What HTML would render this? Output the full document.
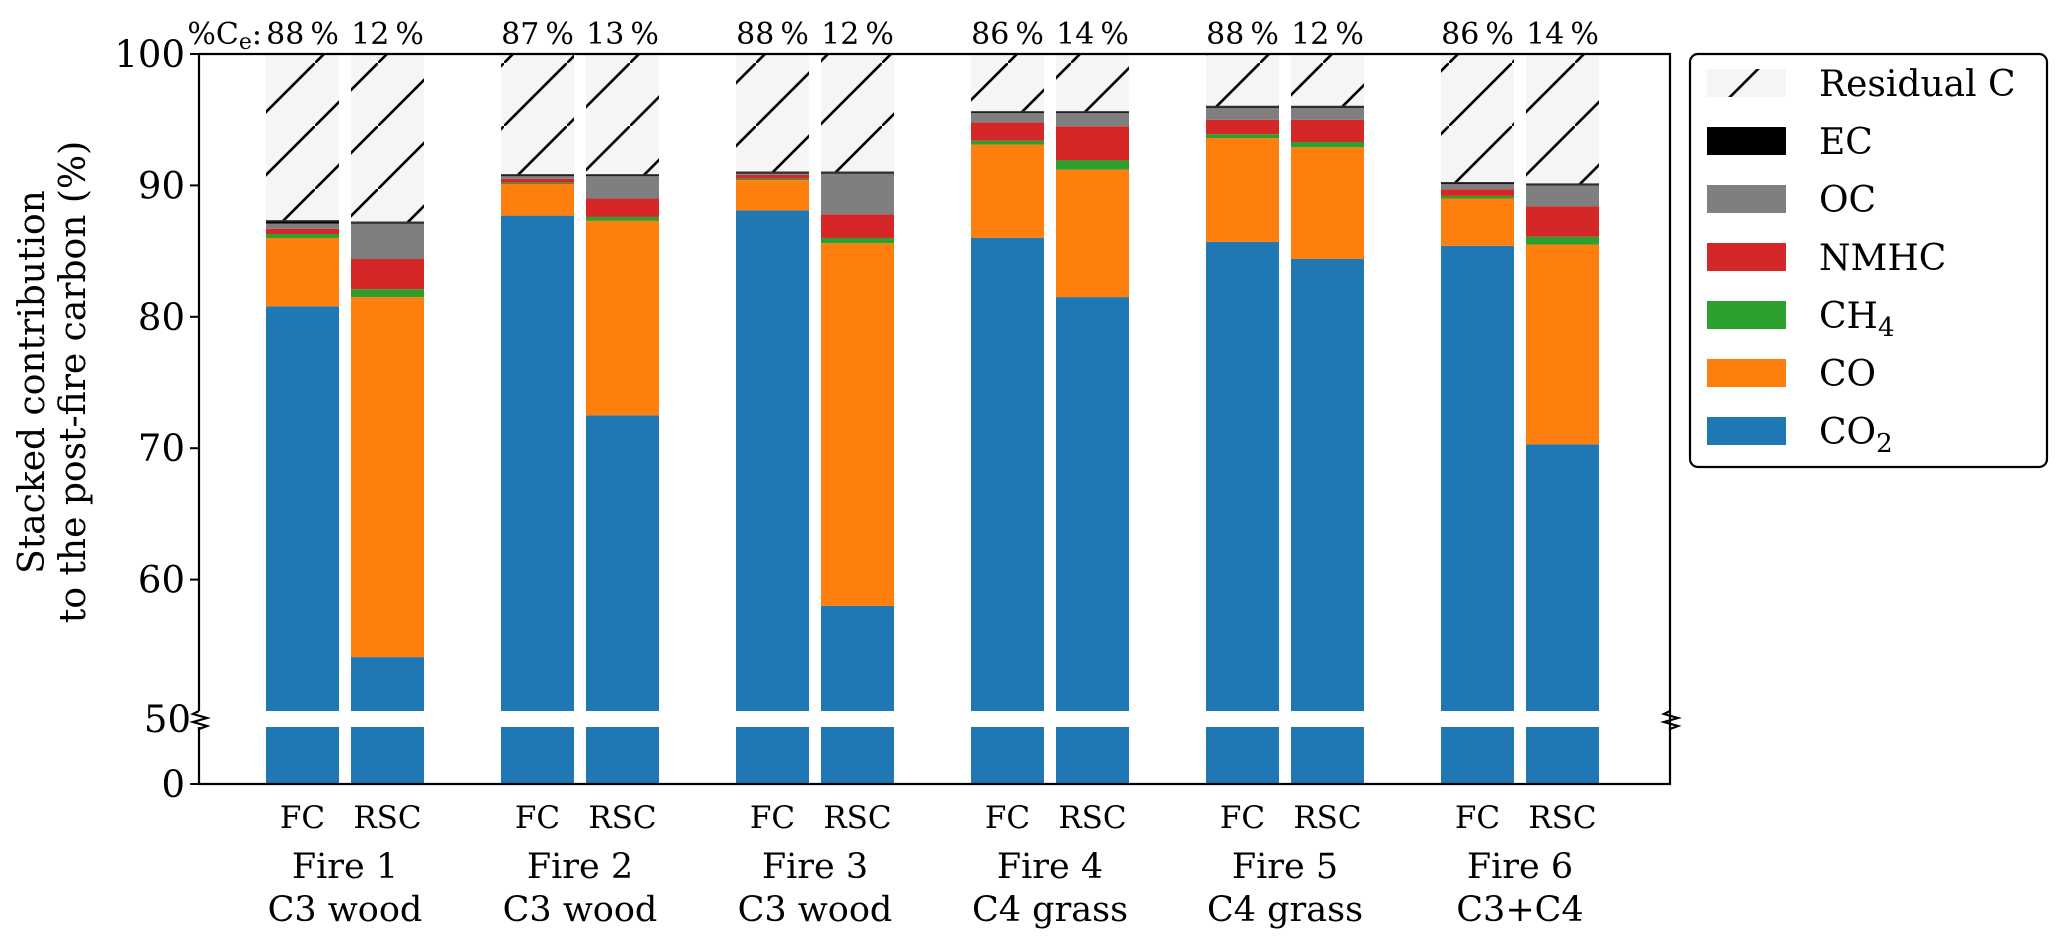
<!DOCTYPE html>
<html><head><meta charset="utf-8"><style>
html,body{margin:0;padding:0;background:#fff;}
svg{display:block;font-family:"DejaVu Serif","Liberation Serif",serif;}
</style></head><body>
<svg id="chart" width="2067" height="942" viewBox="0 0 2067 942" xmlns="http://www.w3.org/2000/svg">
<defs>
<pattern id="hatch" patternUnits="userSpaceOnUse" width="63" height="63">
<rect width="63" height="63" fill="#f5f5f5"/>
<line x1="-2" y1="65" x2="65" y2="-2" stroke="#000" stroke-width="2.6"/>
</pattern>
</defs>
<g id="bars"></g>
<g id="axes"></g>
<g id="legend"></g>
</svg>
<script>
const fires = ["Fire 1","Fire 2","Fire 3","Fire 4","Fire 5","Fire 6"];
const fuels = ["C3 wood","C3 wood","C3 wood","C4 grass","C4 grass","C3+C4"];
const barTypes = ["FC","RSC"];
const pctLabels = ["88\u2009%","12\u2009%","87\u2009%","13\u2009%","88\u2009%","12\u2009%","86\u2009%","14\u2009%","88\u2009%","12\u2009%","86\u2009%","14\u2009%"];
const co2 = [80.8,54.1,87.7,72.5,88.1,58.0,86.0,81.5,85.7,84.4,85.4,70.3];
const co = [5.2,27.4,2.4,14.8,2.3,27.6,7.1,9.7,7.9,8.5,3.6,15.2];
const ch4 = [0.3,0.6,0.1,0.3,0.1,0.4,0.3,0.7,0.3,0.4,0.2,0.6];
const nmhc = [0.4,2.3,0.3,1.4,0.3,1.8,1.4,2.6,1.1,1.7,0.5,2.3];
const oc = [0.4,2.7,0.2,1.7,0.1,3.1,0.7,1.0,0.9,0.9,0.4,1.6];
const ec = [0.2,0.1,0.1,0.1,0.1,0.1,0.1,0.1,0.1,0.1,0.1,0.1];
const topTicks = [100,90,80,70,60];
const bottomTicks = [50,0];

const NS="http://www.w3.org/2000/svg";
function mk(tag,attrs,parent){const e=document.createElementNS(NS,tag);for(const k in attrs)e.setAttribute(k,attrs[k]);parent.appendChild(e);return e;}
const X0=199,X1=1670,YT=54,YB=711,BT=727,BB=784;
function yTop(v){return YB-(v-50)*(YB-YT)/50;}
function yBot(v){return BB-v*(BB-BT)/50;}
function xBar(i){const g=Math.floor(i/2),k=i%2;return 266+g*235+k*85;}
const BW=73;
const bars=document.getElementById('bars');
const series=[
 {name:"co2",vals:co2,fill:"#1f77b4"},
 {name:"co",vals:co,fill:"#ff7f0e"},
 {name:"ch4",vals:ch4,fill:"#2ca02c"},
 {name:"nmhc",vals:nmhc,fill:"#d62728"},
 {name:"oc",vals:oc,fill:"#7f7f7f"},
 {name:"ec",vals:ec,fill:"#000000"}
];
for(let i=0;i<co2.length;i++){
  let cum=0;const x=xBar(i);
  const segs=series.map(s=>({name:s.name,v:s.vals[i],fill:s.fill}));
  let tot=segs.reduce((a,b)=>a+b.v,0);
  segs.push({name:"residual",v:100-tot,fill:"url(#hatch)"});
  segs.forEach(s=>{
    const lo=cum,hi=cum+s.v;cum=hi;
    const a=Math.max(lo,50),b=Math.min(hi,100);
    if(b>a){
      const r=mk('rect',{x:x,y:yTop(b),width:BW,height:yTop(a)-yTop(b),fill:s.fill},bars);
      
      
    }
    const c=Math.max(lo,0),d=Math.min(hi,50);
    if(d>c){
      const r=mk('rect',{x:x,y:yBot(d),width:BW,height:yBot(c)-yBot(d),fill:s.fill},bars);
      
      
    }
  });
  const l=mk('line',{x1:x,x2:x+BW,y1:yTop(tot),y2:yTop(tot),stroke:"#333","stroke-width":1.5},bars);
  
  
  const t=mk('text',{x:x+BW/2,y:44,'text-anchor':'middle','font-size':30},bars);
  t.textContent=pctLabels[i];
  
  
  const bl=mk('text',{x:x+BW/2,y:828,'text-anchor':'middle','font-size':31},bars);
  bl.textContent=barTypes[i%2];
  
  
}
const ax=document.getElementById('axes');
const ce=mk('text',{x:262,y:44,'text-anchor':'end','font-size':30},ax);
ce.innerHTML='%C<tspan font-size="22" dy="5">e</tspan><tspan dy="-5">:</tspan>';


const path=`M${X0},${YT}H${X1}V${BB}H${X0}V${BT}M${X0},${YB}V${YT}`;
mk('path',{d:path,fill:"none",stroke:"#000","stroke-width":2.2},ax);
[X0,X1].forEach(bx=>{
  const p=mk('path',{d:`M${bx},${YB}l-6,3l14,4l-14,4l14,4l-8,3V${BT}`,fill:"none",stroke:"#000","stroke-width":2.2},ax);
  
  
});
topTicks.forEach(v=>{
  const y=yTop(v);
  mk('line',{x1:X0-9,x2:X0,y1:y,y2:y,stroke:"#000","stroke-width":2},ax);
  const t=mk('text',{x:X0-14,y:y+13,'text-anchor':'end','font-size':37},ax);
  t.textContent=v;
  
  
});
bottomTicks.forEach(v=>{
  const y=v===50?719:yBot(v);
  if(v===0)mk('line',{x1:X0-9,x2:X0,y1:y,y2:y,stroke:"#000","stroke-width":2},ax);
  const t=mk('text',{x:v===50?X0-8:X0-14,y:y+13,'text-anchor':'end','font-size':37},ax);
  t.textContent=v;
  
  
});
fires.forEach((f,g)=>{
  const cx=266+g*235+(85+BW)/2;
  const t=mk('text',{x:cx,y:878,'text-anchor':'middle','font-size':35},ax);
  t.textContent=f;
  
  
  const t2=mk('text',{x:cx,y:921,'text-anchor':'middle','font-size':35},ax);
  t2.textContent=fuels[g];
  
  
});
const yt=mk('text',{transform:'translate(44,382) rotate(-90)','text-anchor':'middle','font-size':36},ax);
yt.textContent='Stacked contribution';


const yt2=mk('text',{transform:'translate(85,382) rotate(-90)','text-anchor':'middle','font-size':36},ax);
yt2.textContent='to the post-fire carbon (%)';


const lg=document.getElementById('legend');
const box=mk('rect',{x:1690,y:54,width:357,height:413,rx:8,fill:"#fff",stroke:"#000","stroke-width":2.2},lg);


const entries=[["Residual C","url(#hatch)"],["EC","#000"],["OC","#7f7f7f"],["NMHC","#d62728"],["CH4","#2ca02c"],["CO","#ff7f0e"],["CO2","#1f77b4"]];
entries.forEach((e,k)=>{
  const cy=83+k*58;
  const r=mk('rect',{x:1707,y:cy-14,width:79,height:28,fill:e[1]},lg);
  
  
  const t=mk('text',{x:1819,y:cy+13,'font-size':36},lg);
  if(e[0]==="CH4")t.innerHTML='CH<tspan font-size="26" dy="8">4</tspan>';
  else if(e[0]==="CO2")t.innerHTML='CO<tspan font-size="26" dy="8">2</tspan>';
  else t.textContent=e[0];
  
  
});
</script>
</body></html>
